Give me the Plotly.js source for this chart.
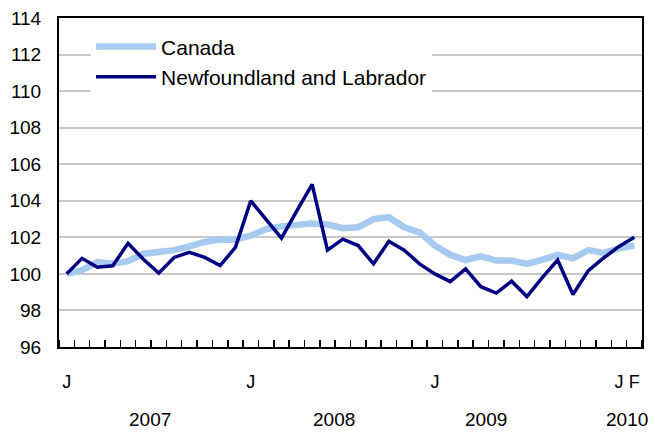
<!DOCTYPE html>
<html>
<head>
<meta charset="utf-8">
<script src="https://cdn.plot.ly/plotly-3.0.1.min.js"></script>
<style>html,body{margin:0;padding:0;background:#fff;}#chart{width:655px;height:435px;}</style>
</head>
<body>
<div id="chart"></div>
<script>
// Months Jan 2007 .. Feb 2010 (index 0..37)
var months = ["2007-01","2007-02","2007-03","2007-04","2007-05","2007-06","2007-07","2007-08","2007-09","2007-10","2007-11","2007-12",
  "2008-01","2008-02","2008-03","2008-04","2008-05","2008-06","2008-07","2008-08","2008-09","2008-10","2008-11","2008-12",
  "2009-01","2009-02","2009-03","2009-04","2009-05","2009-06","2009-07","2009-08","2009-09","2009-10","2009-11","2009-12",
  "2010-01","2010-02"];
var canada = [100.0,100.2,100.64,100.55,100.7,101.1,101.2,101.3,101.5,101.75,101.87,101.87,
  102.1,102.45,102.6,102.65,102.75,102.7,102.5,102.55,103.0,103.1,102.55,102.27,
  101.55,101.04,100.76,100.96,100.73,100.73,100.55,100.78,101.04,100.85,101.3,101.15,
  101.4,101.55];
var nl = [100.0,100.85,100.36,100.44,101.67,100.8,100.04,100.9,101.18,100.9,100.45,101.45,
  104.0,102.95,101.96,103.45,104.9,101.3,101.9,101.55,100.55,101.78,101.3,100.55,
  100.0,99.58,100.27,99.3,98.95,99.6,98.76,99.8,100.76,98.87,100.18,100.87,
  101.5,102.0];
var monthTickIdx = [0, 12, 24, 36, 37];
var monthTickText = ["J", "J", "J", "J", "F"];
var yearLabels = ["2007", "2008", "2009", "2010"];
var yearPos = [5.4, 17.4, 27.3, 36.5];
var yTicks = [96, 98, 100, 102, 104, 106, 108, 110, 112, 114];

var idx = months.map(function(m, i){ return i; });

var traces = [
  {x: idx, y: canada, name: "Canada", type: "scatter", mode: "lines",
   line: {color: "#A6CAF0", width: 6.5}},
  {x: idx, y: nl, name: "Newfoundland and Labrador", type: "scatter", mode: "lines",
   line: {color: "#000080", width: 3.5}}
];

var annotations = yearLabels.map(function(t, i){
  return {x: yearPos[i], xref: "x", y: -0.22, yref: "paper", text: t, showarrow: false,
    xanchor: "center", yanchor: "middle", font: {family: "Arial, Liberation Sans, sans-serif", size: 19, color: "#000"}};
});

var layout = {
  width: 655, height: 435,
  margin: {l: 59, r: 13, t: 18, b: 88},
  paper_bgcolor: "#fff", plot_bgcolor: "#fff",
  font: {family: "Arial, Liberation Sans, sans-serif", size: 18, color: "#000"},
  showlegend: true,
  legend: {x: 0.055, y: 0.975, xanchor: "left", yanchor: "top", bgcolor: "#fff",
    font: {size: 21}, itemwidth: 60, tracegroupgap: 0},
  xaxis: {range: [-0.5, 37.5], tickvals: monthTickIdx, ticktext: monthTickText, ticks: "",
    showgrid: false, zeroline: false, showline: true, linecolor: "#000", linewidth: 2, mirror: true,
    ticklabelstandoff: 17, tickfont: {size: 18},
    minor: {ticks: "inside", tick0: -0.5, dtick: 1, ticklen: 7, tickcolor: "#000", tickwidth: 1.5, showgrid: false}},
  yaxis: {range: [96, 114], tickvals: yTicks, ticks: "", showgrid: true, gridcolor: "#C8C8C8", gridwidth: 2,
    zeroline: false, showline: true, linecolor: "#000", linewidth: 2, mirror: true, ticklabelstandoff: 12,
    tickfont: {size: 19}},
  annotations: annotations
};

Plotly.newPlot("chart", traces, layout, {displayModeBar: false, staticPlot: true});
</script>
</body>
</html>
